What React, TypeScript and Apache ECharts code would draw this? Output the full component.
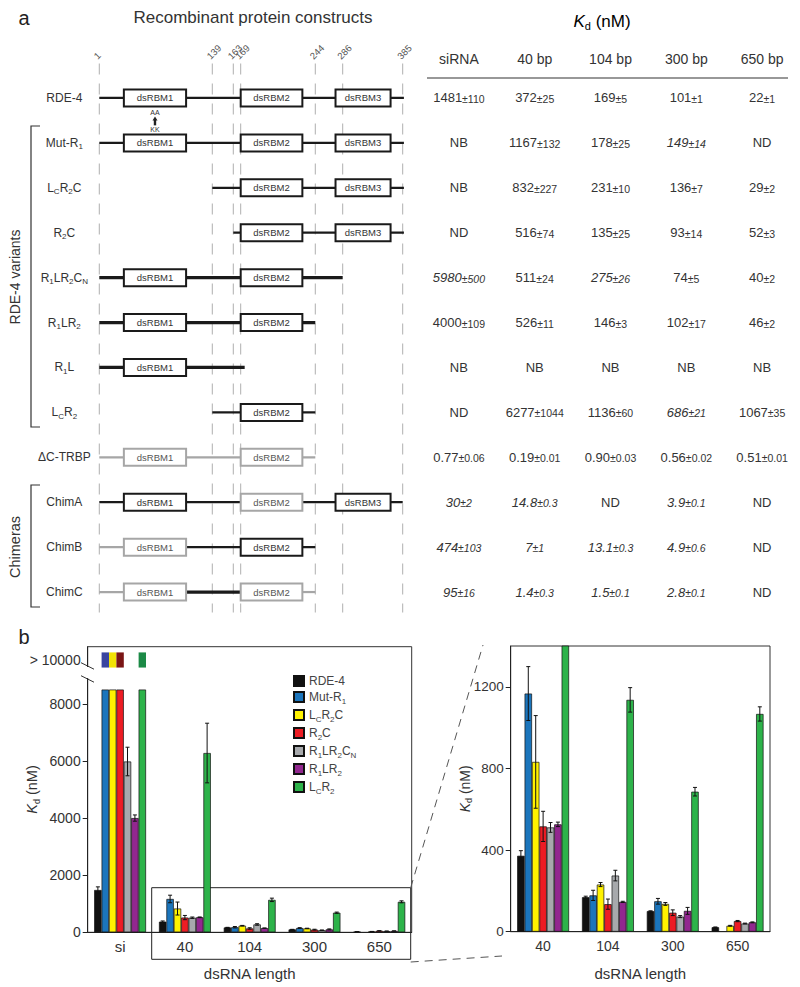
import React, { useEffect, useRef } from 'react';
import * as echarts from 'echarts';

const FONT = "'Liberation Sans', Arial, Helvetica, sans-serif";

// ---------------- Panel a : constructs ----------------
// "_X" marks a one-character subscript
const constructNames = ['RDE-4', 'Mut-R_1', 'L_CR_2C', 'R_2C', 'R_1LR_2C_N', 'R_1LR_2', 'R_1L', 'L_CR_2', 'ΔC-TRBP', 'ChimA', 'ChimB', 'ChimC'];
const residueMarks = [1, 139, 163, 169, 244, 286, 385];
const domainNames = ['dsRBM1', 'dsRBM2', 'dsRBM3'];
const domainStart = [31, 169, 275];
const domainEnd = [107, 231, 365];
// linker lines: [row, fromResidue, toResidue, origin]  origin 0 = RDE-4, 1 = TRBP
const linkers: number[][] = [
  [0, 1, 387, 0], [1, 1, 387, 0], [2, 139, 387, 0], [3, 163, 387, 0],
  [4, 1, 286, 0], [5, 1, 244, 0], [6, 1, 173, 0], [7, 139, 244, 0],
  [8, 1, 244, 1], [9, 1, 385, 0],
  [10, 1, 107, 1], [10, 107, 244, 0],
  [11, 1, 107, 1], [11, 107, 169, 0], [11, 231, 244, 1],
];
// domain boxes: [row, domainIndex, origin]
const domainBoxes: number[][] = [
  [0, 0, 0], [0, 1, 0], [0, 2, 0],
  [1, 0, 0], [1, 1, 0], [1, 2, 0],
  [2, 1, 0], [2, 2, 0],
  [3, 1, 0], [3, 2, 0],
  [4, 0, 0], [4, 1, 0],
  [5, 0, 0], [5, 1, 0],
  [6, 0, 0],
  [7, 1, 0],
  [8, 0, 1], [8, 1, 1],
  [9, 0, 0], [9, 1, 1], [9, 2, 0],
  [10, 0, 1], [10, 1, 0],
  [11, 0, 1], [11, 1, 1],
];
// point mutation: [row, residue]
const mutations: number[][] = [[1, 69]];
const mutationFrom = 'KK';
const mutationTo = 'AA';

// Kd table (nM); '*' = italic entry
const kdColumns = ['siRNA', '40 bp', '104 bp', '300 bp', '650 bp'];
const kdRDE4 = ['1481±110', '372±25', '169±5', '101±1', '22±1'];
const kdMutR1 = ['NB', '1167±132', '178±25', '*149±14', 'ND'];
const kdLcR2C = ['NB', '832±227', '231±10', '136±7', '29±2'];
const kdR2C = ['ND', '516±74', '135±25', '93±14', '52±3'];
const kdR1LR2CN = ['*5980±500', '511±24', '*275±26', '74±5', '40±2'];
const kdR1LR2 = ['4000±109', '526±11', '146±3', '102±17', '46±2'];
const kdR1L = ['NB', 'NB', 'NB', 'NB', 'NB'];
const kdLcR2 = ['ND', '6277±1044', '1136±60', '*686±21', '1067±35'];
const kdTRBP = ['0.77±0.06', '0.19±0.01', '0.90±0.03', '0.56±0.02', '0.51±0.01'];
const kdChimA = ['*30±2', '*14.8±0.3', 'ND', '*3.9±0.1', 'ND'];
const kdChimB = ['*474±103', '*7±1', '*13.1±0.3', '*4.9±0.6', 'ND'];
const kdChimC = ['*95±16', '*1.4±0.3', '*1.5±0.1', '*2.8±0.1', 'ND'];
const kdRows = [kdRDE4, kdMutR1, kdLcR2C, kdR2C, kdR1LR2CN, kdR1LR2, kdR1L, kdLcR2, kdTRBP, kdChimA, kdChimB, kdChimC];

// ---------------- Panel b : bar charts ----------------
const chartRows = [0, 1, 2, 3, 4, 5, 7]; // constructs plotted
const leftCats = ['si', '40', '104', '300', '650'];
const rightCats = ['40', '104', '300', '650'];
const seriesColors = ['#111111', '#1b75bc', '#fff200', '#ed1c24', '#a7a9ac', '#92278f', '#2db34a'];
const capColors = ['#111111', '#3a45a0', '#f2e205', '#7a1515', '#888888', '#5a1a60', '#1c8a46'];

// axis break of the left chart (siRNA NB/ND plotted as > 10000)
const BREAK_LOW = 8500;
const CAP_BOTTOM = 9270;
const CAP_TOP = 9800;
const OVER_LABEL_AT = 9535;

// schematic (non-linear) drawing positions of the residue marks
const markPos = [0, 113, 134, 141.4, 216, 243.4, 303.4];
function resToX(r: number): number {
  for (let i = 0; i < residueMarks.length - 1; i++) {
    if (r <= residueMarks[i + 1] || i === residueMarks.length - 2) {
      const t = (r - residueMarks[i]) / (residueMarks[i + 1] - residueMarks[i]);
      return markPos[i] + t * (markPos[i + 1] - markPos[i]);
    }
  }
  return 0;
}

function toRich(s: string): string {
  let out = '';
  let buf = '';
  for (let i = 0; i < s.length; i++) {
    if (s[i] === '_' && i + 1 < s.length) {
      if (buf) { out += `{n|${buf}}`; buf = ''; }
      out += `{s|${s[i + 1]}}`;
      i++;
    } else buf += s[i];
  }
  if (buf) out += `{n|${buf}}`;
  return out;
}

const nameRich = (size: number, color: string) => ({
  n: { fontSize: size, lineHeight: size + 2, color, fontFamily: FONT, verticalAlign: 'middle' },
  s: { fontSize: Math.round(size * 0.68), height: size * 0.5, lineHeight: size * 0.5, color, fontFamily: FONT, verticalAlign: 'bottom' },
});

const kdRich = (size: number, color: string) => ({
  i: { fontSize: size, fontStyle: 'italic', lineHeight: size + 2, color, fontFamily: FONT, verticalAlign: 'middle' },
  s: { fontSize: Math.round(size * 0.65), height: size * 0.5, lineHeight: size * 0.5, color, fontFamily: FONT, verticalAlign: 'bottom' },
  n: { fontSize: size, lineHeight: size + 2, color, fontFamily: FONT, verticalAlign: 'middle' },
});
const KD_LABEL = '{i|K}{s|d}{n| (nM)}';

function cellRich(cell: string): string {
  const italic = cell.startsWith('*');
  const t = italic ? cell.slice(1) : cell;
  const [v, e] = t.split('±');
  const sv = italic ? 'vi' : 'v';
  const se = italic ? 'ei' : 'e';
  return e !== undefined ? `{${sv}|${v}}{${se}|±${e}}` : `{${sv}|${v}}`;
}

function parseCell(cell: string) {
  const t = cell.replace('*', '');
  const [v, e] = t.split('±');
  const val = parseFloat(v);
  return { ok: !isNaN(val), v: val, e: e ? parseFloat(e) : 0 };
}

const TONE = ['#1a1a1a', '#a6a6a6'];

function barSlot(api: any, cat: number, s: number) {
  const band = api.size([1, 0])[0];
  const total = band * 0.8;
  const bw = total / chartRows.length;
  const cx = api.coord([cat, 0])[0];
  return { x: cx - total / 2 + bw * s, w: bw };
}

function buildOption(): any {
  const tableData: number[][] = [];
  const tableText: string[] = [];
  kdRows.forEach((row, r) => row.forEach((cell, c) => { tableData.push([c, r]); tableText.push(cellRich(cell)); }));

  const leftBars: any[] = [];
  const rightBars: any[] = [];
  const leftErr: number[][] = [];
  const rightErr: number[][] = [];
  const caps: number[][] = [];
  chartRows.forEach((row, s) => {
    const name = constructNames[row];
    const lData: any[] = [];
    const rData: any[] = [];
    kdRows[row].forEach((cell, c) => {
      const p = parseCell(cell);
      if (p.ok) {
        lData.push(p.v);
        leftErr.push([c, p.v, p.e, s]);
        if (c > 0) { rData.push(p.v); rightErr.push([c - 1, p.v, p.e, s]); }
      } else if (c === 0) {
        lData.push(BREAK_LOW); // NB / ND for siRNA : > 10000
        caps.push([0, s]);
      } else {
        lData.push('-');
        rData.push('-');
      }
    });
    const common = {
      type: 'bar', name, barGap: '0%', barCategoryGap: '20%',
      itemStyle: { color: seriesColors[s], borderColor: '#111', borderWidth: 0.7 },
    };
    leftBars.push({ ...common, xAxisIndex: 2, yAxisIndex: 2, data: lData });
    rightBars.push({ ...common, xAxisIndex: 3, yAxisIndex: 3, data: rData });
  });

  const errRender = (params: any, api: any) => {
    const cat = api.value(0), v = api.value(1), e = api.value(2), s = api.value(3);
    const { x, w } = barSlot(api, cat, s);
    const cx = x + w / 2;
    const top = api.coord([cat, v + e])[1];
    const bot = api.coord([cat, v - e])[1];
    const st = { stroke: '#111', lineWidth: 1 };
    return {
      type: 'group', children: [
        { type: 'line', shape: { x1: cx, y1: top, x2: cx, y2: bot }, style: st },
        { type: 'line', shape: { x1: cx - 2, y1: top, x2: cx + 2, y2: top }, style: st },
        { type: 'line', shape: { x1: cx - 2, y1: bot, x2: cx + 2, y2: bot }, style: st },
      ],
    };
  };

  const cellStyles = {
    v: { fontSize: 13, lineHeight: 16, color: '#333', fontFamily: FONT, verticalAlign: 'middle' },
    e: { fontSize: 10.5, height: 14, lineHeight: 14, color: '#333', fontFamily: FONT, verticalAlign: 'bottom' },
    vi: { fontSize: 13, lineHeight: 16, color: '#333', fontFamily: FONT, fontStyle: 'italic', verticalAlign: 'middle' },
    ei: { fontSize: 10.5, height: 14, lineHeight: 14, color: '#333', fontFamily: FONT, fontStyle: 'italic', verticalAlign: 'bottom' },
  };

  const valueAxisCommon = {
    type: 'value', splitLine: { show: false },
    axisLine: { show: true, lineStyle: { color: '#222', width: 1 } },
    axisTick: { show: true, length: 5, lineStyle: { color: '#222' } },
    nameLocation: 'middle', nameRotate: 90, nameMoveOverlap: false,
  };

  return {
    animation: false,
    backgroundColor: '#fff',
    textStyle: { fontFamily: FONT },
    grid: [
      { left: 99.3, top: 75.5, width: 303.4, height: 539 },
      { left: 421, top: 75.5, width: 379, height: 539 },
      { left: 87.7, top: 646.7, width: 324, height: 285.6, show: true, borderColor: '#333', borderWidth: 1 },
      { left: 510.7, top: 646, width: 259.3, height: 285.7, show: true, borderColor: '#333', borderWidth: 1 },
    ],
    xAxis: [
      { gridIndex: 0, type: 'value', min: 0, max: 303.4, show: false },
      {
        gridIndex: 1, type: 'category', data: kdColumns, position: 'top',
        axisLine: { show: false }, axisTick: { show: false },
        axisLabel: { fontSize: 14, color: '#333', margin: 10, fontFamily: FONT },
      },
      {
        gridIndex: 2, type: 'category', data: leftCats,
        axisLine: { lineStyle: { color: '#222' } },
        axisTick: { inside: true, length: 4, lineStyle: { color: '#222' } },
        axisLabel: { fontSize: 15, color: '#333', margin: 7, fontFamily: FONT },
        name: 'dsRNA length', nameLocation: 'middle', nameGap: 34, nameMoveOverlap: false,
        nameTextStyle: { fontSize: 15, color: '#333', fontFamily: FONT },
      },
      {
        gridIndex: 3, type: 'category', data: rightCats,
        axisLine: { lineStyle: { color: '#222' } },
        axisTick: { inside: true, length: 4, lineStyle: { color: '#222' } },
        axisLabel: { fontSize: 14, color: '#333', margin: 7, fontFamily: FONT },
        name: 'dsRNA length', nameLocation: 'middle', nameGap: 34, nameMoveOverlap: false,
        nameTextStyle: { fontSize: 15, color: '#333', fontFamily: FONT },
      },
    ],
    yAxis: [
      {
        gridIndex: 0, type: 'category', data: constructNames, inverse: true,
        axisLine: { show: false }, axisTick: { show: false },
        axisLabel: { formatter: (v: string) => toRich(v), rich: nameRich(12, '#333'), align: 'center', margin: 35 },
      },
      { gridIndex: 1, type: 'category', data: constructNames, inverse: true, show: false },
      {
        ...valueAxisCommon, gridIndex: 2, min: 0, max: 10000,
        axisTick: { ...valueAxisCommon.axisTick, customValues: [0, 2000, 4000, 6000, 8000] },
        axisLabel: {
          customValues: [0, 2000, 4000, 6000, 8000, OVER_LABEL_AT],
          formatter: (v: number) => (v > 9000 ? '> 10000' : String(v)),
          fontSize: 14, color: '#333', margin: 7, fontFamily: FONT,
        },
        name: KD_LABEL, nameGap: 47, nameTextStyle: { rich: kdRich(14.5, '#333') },
      },
      {
        ...valueAxisCommon, gridIndex: 3, min: 0, max: 1400,
        axisTick: { ...valueAxisCommon.axisTick, customValues: [0, 400, 800, 1200] },
        axisLabel: {
          customValues: [0, 400, 800, 1200], formatter: (v: number) => String(v),
          fontSize: 13.5, color: '#333', margin: 7, fontFamily: FONT,
        },
        name: KD_LABEL, nameGap: 38, nameTextStyle: { rich: kdRich(14, '#333') },
      },
    ],
    legend: {
      data: chartRows.map((r) => constructNames[r]),
      orient: 'vertical', left: 288, top: 670, itemWidth: 10, itemHeight: 10, itemGap: 4,
      icon: 'rect', formatter: (name: string) => toRich(name),
      textStyle: { fontSize: 12, color: '#444', rich: nameRich(12, '#444') },
      selectedMode: false,
    },
    series: [
      {
        type: 'custom', name: 'guides', xAxisIndex: 0, yAxisIndex: 0, z: 1,
        data: residueMarks.map((r) => [r, 0]), encode: { x: 0, y: 1 },
        renderItem: (params: any, api: any) => {
          const cs = params.coordSys;
          const r = api.value(0);
          const x = api.coord([resToX(r), 0])[0];
          return {
            type: 'group', children: [
              { type: 'line', shape: { x1: x, y1: cs.y - 12, x2: x, y2: cs.y + cs.height - 2 }, style: { stroke: '#9a9a9a', lineWidth: 0.8, lineDash: [11, 9] } },
              { type: 'text', x: x - 4, y: cs.y - 18, rotation: Math.PI / 4, style: { text: String(r), fontSize: 9.5, fontFamily: FONT, fill: '#555', align: 'left', verticalAlign: 'middle' } },
            ],
          };
        },
      },
      {
        type: 'custom', name: 'linkers', xAxisIndex: 0, yAxisIndex: 0, z: 2,
        data: linkers.map((l) => [l[1], l[2], l[0]]), encode: { x: [0, 1], y: 2 },
        renderItem: (params: any, api: any) => {
          const l = linkers[params.dataIndex];
          const p0 = api.coord([resToX(api.value(0)), api.value(2)]);
          const p1 = api.coord([resToX(api.value(1)), api.value(2)]);
          const thick = (l[0] >= 4 && l[0] <= 6) || (l[0] === 11 && l[3] === 0);
          return { type: 'line', shape: { x1: p0[0], y1: p0[1], x2: p1[0], y2: p1[1] }, style: { stroke: TONE[l[3]], lineWidth: thick ? 3.3 : 2.2 } };
        },
      },
      {
        type: 'custom', name: 'domains', xAxisIndex: 0, yAxisIndex: 0, z: 3,
        data: domainBoxes.map((b) => [domainStart[b[1]], domainEnd[b[1]], b[0]]), encode: { x: [0, 1], y: 2 },
        renderItem: (params: any, api: any) => {
          const b = domainBoxes[params.dataIndex];
          const p0 = api.coord([resToX(api.value(0)), api.value(2)]);
          const p1 = api.coord([resToX(api.value(1)), api.value(2)]);
          const h = 17;
          return {
            type: 'group', children: [
              { type: 'rect', shape: { x: p0[0], y: p0[1] - h / 2, width: p1[0] - p0[0], height: h }, style: { fill: '#fff', stroke: TONE[b[2]], lineWidth: 2 } },
              { type: 'text', x: (p0[0] + p1[0]) / 2, y: p0[1], style: { text: domainNames[b[1]], fontSize: 9.5, fontFamily: FONT, fill: b[2] ? '#555' : '#333', align: 'center', verticalAlign: 'middle' } },
            ],
          };
        },
      },
      {
        type: 'custom', name: 'mutation', xAxisIndex: 0, yAxisIndex: 0, z: 4,
        data: mutations.map((m) => [m[1], m[0]]), encode: { x: 0, y: 1 },
        renderItem: (params: any, api: any) => {
          const p = api.coord([resToX(api.value(0)), api.value(1)]);
          const x = p[0], y = p[1];
          const ts = { fontSize: 7, fontFamily: FONT, fill: '#333', align: 'center', verticalAlign: 'middle' };
          return {
            type: 'group', children: [
              { type: 'text', x, y: y - 30, style: { ...ts, text: mutationTo } },
              { type: 'polygon', shape: { points: [[x, y - 26.5], [x - 2.5, y - 22.5], [x + 2.5, y - 22.5]] }, style: { fill: '#222' } },
              { type: 'rect', shape: { x: x - 1.2, y: y - 23, width: 2.4, height: 5.5 }, style: { fill: '#222' } },
              { type: 'text', x, y: y - 13, style: { ...ts, text: mutationFrom } },
            ],
          };
        },
      },
      {
        type: 'custom', name: 'kdTable', xAxisIndex: 1, yAxisIndex: 1, z: 3,
        data: tableData, encode: { x: 0, y: 1 },
        renderItem: (params: any, api: any) => {
          const p = api.coord([api.value(0), api.value(1)]);
          return { type: 'text', x: p[0], y: p[1], style: { text: tableText[params.dataIndex], rich: cellStyles, align: 'center', verticalAlign: 'middle', fill: '#333', fontFamily: FONT, fontSize: 13 } };
        },
      },
      ...leftBars,
      {
        type: 'custom', name: 'caps', xAxisIndex: 2, yAxisIndex: 2, z: 4,
        data: caps, encode: { x: 0, y: 1 },
        renderItem: (params: any, api: any) => {
          const s = caps[params.dataIndex][1];
          const { x, w } = barSlot(api, api.value(0), s);
          const y1 = api.coord([0, CAP_TOP])[1];
          const y0 = api.coord([0, CAP_BOTTOM])[1];
          return { type: 'rect', shape: { x, y: y1, width: w, height: y0 - y1 }, style: { fill: capColors[s] } };
        },
      },
      {
        type: 'custom', name: 'errL', xAxisIndex: 2, yAxisIndex: 2, z: 5, clip: true,
        data: leftErr, encode: { x: 0, y: 1 }, renderItem: errRender,
      },
      ...rightBars,
      {
        type: 'custom', name: 'errR', xAxisIndex: 3, yAxisIndex: 3, z: 5, clip: true,
        data: rightErr, encode: { x: 0, y: 1 }, renderItem: errRender,
      },
    ],
    graphic: [
      { type: 'text', x: 24, y: 18, style: { text: 'a', fontSize: 20, fontFamily: FONT, fill: '#222', align: 'center', verticalAlign: 'middle' } },
      { type: 'text', x: 24, y: 637, style: { text: 'b', fontSize: 20, fontFamily: FONT, fill: '#222', align: 'center', verticalAlign: 'middle' } },
      { type: 'text', x: 253, y: 17, style: { text: 'Recombinant protein constructs', fontSize: 17, fontFamily: FONT, fill: '#333', align: 'center', verticalAlign: 'middle' } },
      { type: 'text', x: 602, y: 21, style: { text: KD_LABEL, rich: kdRich(17, '#333'), align: 'center', verticalAlign: 'middle' } },
      { type: 'line', shape: { x1: 427, y1: 78, x2: 788, y2: 78 }, style: { stroke: '#333', lineWidth: 1.2 } },
      { type: 'polyline', shape: { points: [[40, 126], [31, 126], [31, 427], [40, 427]] }, style: { stroke: '#333', lineWidth: 1.2, fill: null } },
      { type: 'polyline', shape: { points: [[40, 485], [31, 485], [31, 607], [40, 607]] }, style: { stroke: '#333', lineWidth: 1.2, fill: null } },
      { type: 'text', x: 15, y: 277, rotation: Math.PI / 2, style: { text: 'RDE-4 variants', fontSize: 14, fontFamily: FONT, fill: '#333', align: 'center', verticalAlign: 'middle' } },
      { type: 'text', x: 15, y: 547, rotation: Math.PI / 2, style: { text: 'Chimeras', fontSize: 14.5, fontFamily: FONT, fill: '#333', align: 'center', verticalAlign: 'middle' } },
      // zoom box and connectors
      { type: 'rect', z: 0, shape: { x: 151.7, y: 887.7, width: 259, height: 71.6 }, style: { fill: 'none', stroke: '#222', lineWidth: 1 } },
      { type: 'line', shape: { x1: 410.7, y1: 887.7, x2: 483, y2: 645 }, style: { stroke: '#555', lineWidth: 1, lineDash: [8, 6] } },
      { type: 'line', shape: { x1: 410.7, y1: 962, x2: 502, y2: 956 }, style: { stroke: '#555', lineWidth: 1, lineDash: [8, 6] } },
      // axis break marks
      { type: 'rect', z: 100, shape: { x: 84, y: 667, width: 7, height: 11 }, style: { fill: '#fff' } },
      { type: 'line', z: 101, shape: { x1: 81, y1: 662.7, x2: 94, y2: 669.2 }, style: { stroke: '#333', lineWidth: 1 } },
      { type: 'line', z: 101, shape: { x1: 81, y1: 675.7, x2: 94, y2: 682.2 }, style: { stroke: '#333', lineWidth: 1 } },
    ],
  };
}

export default function App() {
  const ref = useRef<HTMLDivElement>(null);
  useEffect(() => {
    const chart = echarts.init(ref.current!, null, { renderer: 'svg' });
    chart.setOption(buildOption());
    return () => chart.dispose();
  }, []);
  return <div ref={ref} style={{ position: 'absolute', left: 0, top: 0, width: 800, height: 987, background: '#fff' }} />;
}
